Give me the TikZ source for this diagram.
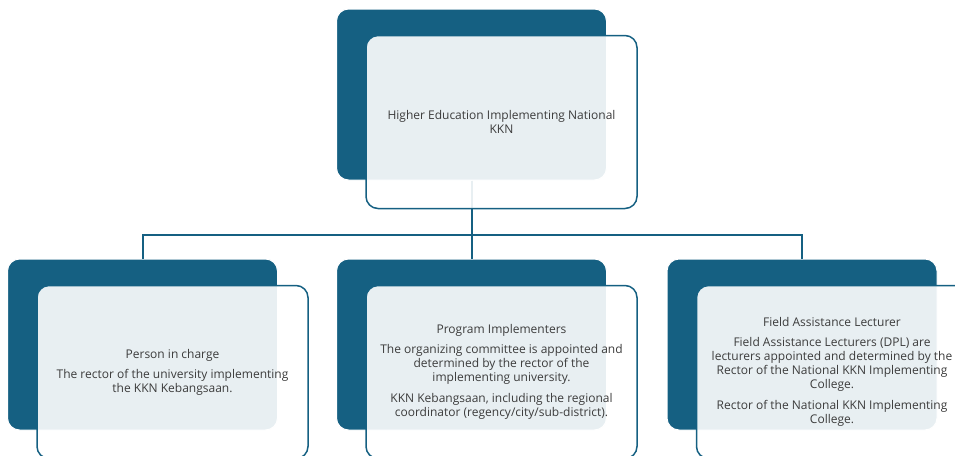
\documentclass[tikz,border=0pt]{standalone}
\usepackage{fontspec}
\setmainfont{Open Sans}
\usepackage{xcolor}
\definecolor{kknblue}{RGB}{21,96,130}
\definecolor{ink}{RGB}{60,60,60}
\tikzset{
    %Card behind and card in front
    back/.style={draw=white, line width=1pt, fill=kknblue, rounded corners=12pt,
        minimum width=270pt, minimum height=171pt, inner sep=0pt},
    front/.style={draw=kknblue, line width=1.5pt, fill=white, fill opacity=0.9, text opacity=1,
        rounded corners=12pt, minimum width=271pt, minimum height=173pt, inner sep=0pt,
        align=center, text=ink, font=\fontsize{12}{14}\selectfont},
    link/.style={draw=kknblue, line width=2pt}
}

\begin{document}
\begin{tikzpicture}[x=1pt,y=-1pt]
    \useasboundingbox (0,0) rectangle (955,455);

    \node[back] (top) at (471.5,94.5) {};
    \node[back] (left) at (142.5,344.5) {};
    \node[back] (mid) at (471.5,344.5) {};
    \node[back] (right) at (802,344.5) {};

    \foreach \n in {left,mid,right}
        \draw[link] (top.south) -- ++(0,54) -| (\n.north);

    \node[front] (topcard) at ([shift={(30,27.5)}]top.center)
        {Higher Education Implementing National\\KKN};
    \node[front] (leftcard) at ([shift={(30,27.5)}]left.center)
        {Person in charge\\[6pt]
         The rector of the university implementing\\the KKN Kebangsaan.};
    \node[front] (midcard) at ([shift={(30,27.5)}]mid.center)
        {Program Implementers\\[6pt]
         The organizing committee is appointed and\\determined by the rector of the\\implementing university.\\[7pt]
         KKN Kebangsaan, including the regional\\coordinator (regency/city/sub-district).};
    \node[front] (rightcard) at ([shift={(30,27.5)}]right.center)
        {Field Assistance Lecturer\\[6pt]
         Field Assistance Lecturers (DPL) are\\lecturers appointed and determined by the\\Rector of the National KKN Implementing\\College.\\[7pt]
         Rector of the National KKN Implementing\\College.};
\end{tikzpicture}
\end{document}
